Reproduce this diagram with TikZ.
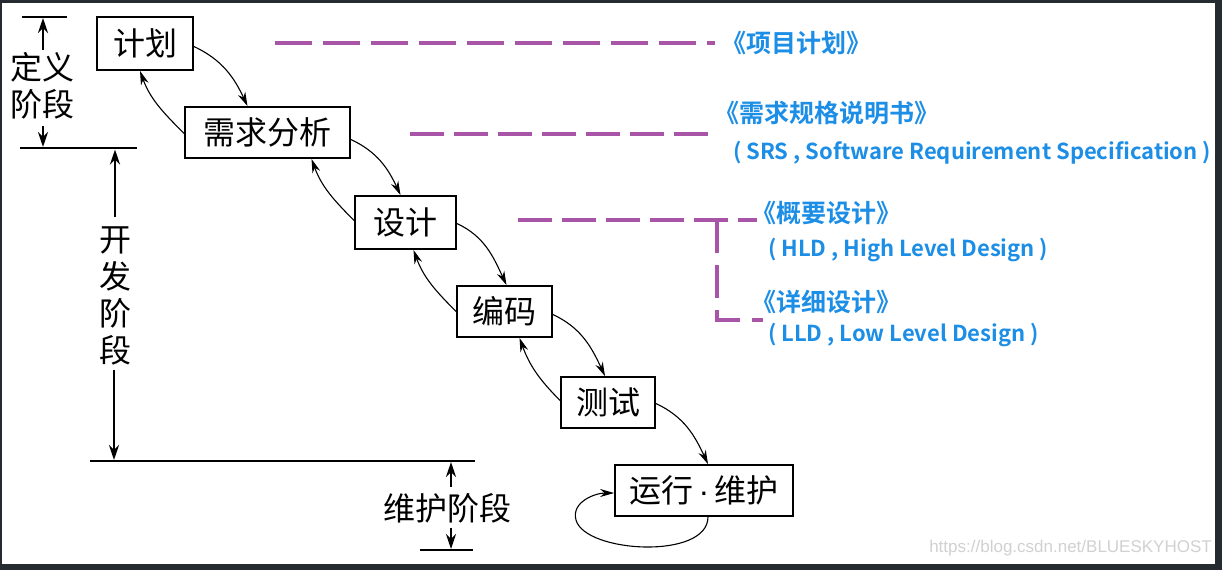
\documentclass[tikz,border=0pt]{standalone}
\usepackage{fontspec}
\newfontfamily\cjk{Noto Sans CJK SC}
\newfontfamily\cjkb{Noto Sans CJK SC Bold}
\newfontfamily\wmfont{Liberation Sans}
\usetikzlibrary{arrows.meta}
\definecolor{framec}{RGB}{38,42,49}
\definecolor{dpurple}{RGB}{168,85,168}
\definecolor{dblue}{RGB}{28,142,230}
\tikzset{
  stagebox/.style={draw, line width=1.8pt, inner sep=0pt, font=\cjk\fontsize{32}{32}\selectfont},
  flow/.style={line width=1.1pt, -{Stealth[length=14pt,width=8pt]}},
  dimarrow/.style={line width=2.4pt, -{Stealth[length=15pt,width=10pt]}},
  dimline/.style={line width=1.6pt},
  docline/.style={dpurple, line width=3.5pt, dash pattern=on 37pt off 11pt},
  phase/.style={inner sep=0pt, align=center, font=\cjk\fontsize{32}{37}\selectfont},
  doctitle/.style={anchor=west, inner sep=0pt, text=dblue, font=\cjkb\fontsize{25}{25}\selectfont},
  docsub/.style={anchor=west, inner sep=0pt, text=dblue, font=\cjkb\fontsize{22}{22}\selectfont},
}
\begin{document}
\begin{tikzpicture}[x=1pt,y=1pt]
\useasboundingbox (0,0) rectangle (1222,-570);
\fill[framec] (0,0) rectangle (1222,-570);
\fill[white] (2,-3) rectangle (1215,-564);

% stage boxes
\node[stagebox, minimum width=96pt, minimum height=53pt] (jh) at (145,-43.5) {计划};
\node[stagebox, minimum width=165pt, minimum height=51pt] (xq) at (267.5,-132.5) {需求分析};
\node[stagebox, minimum width=101pt, minimum height=53pt] (sj) at (405.5,-222.5) {设计};
\node[stagebox, minimum width=95pt, minimum height=51pt] (bm) at (504.5,-311.5) {编码};
\node[stagebox, minimum width=94pt, minimum height=51pt] (cs) at (608,-402.5) {测试};
\node[stagebox, minimum width=178pt, minimum height=51pt] (yw) at (704,-490.5) {运行\,{\wmfont ·}\,维护};

% forward arrows
\draw[flow] ([yshift=-3pt]jh.east) to[out=-25,in=115] ([xshift=-20pt]xq.north);
\draw[flow] ([yshift=-7pt]xq.east) to[out=-25,in=115] ([xshift=-5pt]sj.north);
\draw[flow] ([yshift=-1pt]sj.east) to[out=-25,in=115] ([xshift=2pt]bm.north);
\draw[flow] ([yshift=-3pt]bm.east) to[out=-25,in=115] ([xshift=-3pt]cs.north);
\draw[flow] ([yshift=-1pt]cs.east) to[out=-25,in=115] ([xshift=4pt]yw.north);
% backward arrows
\draw[flow] ([yshift=-1pt]xq.west) to[out=135,in=-70] ([xshift=-5pt]jh.south);
\draw[flow] ([yshift=2pt]sj.west) to[out=135,in=-70] ([xshift=44pt]xq.south);
\draw[flow] (bm.west) to[out=135,in=-70] ([xshift=8pt]sj.south);
\draw[flow] ([yshift=2pt]cs.west) to[out=135,in=-70] ([xshift=15pt]bm.south);
% self loop
\draw[flow] ([xshift=4pt]yw.south) .. controls (708,-560) and (585,-553) .. (576,-520)
  .. controls (571,-502) and (595,-493) .. ([yshift=-2.5pt]yw.west);

% documents
\node[doctitle] (d1) at (721,-43) {《项目计划》};
\node[doctitle] (d2) at (714,-113) {《需求规格说明书》};
\node[docsub] (d2s) at (733,-153) {( SRS , Software Requirement Specification )};
\node[doctitle] (d3) at (751,-213) {《概要设计》};
\node[docsub] (d3s) at (768,-250) {( HLD , High Level Design )};
\node[doctitle] (d4) at (751,-302) {《详细设计》};
\node[docsub] (d4s) at (768,-335) {( LLD , Low Level Design )};

\coordinate (l1a) at (275,-43);
\coordinate (l1b) at (715,-43);
\coordinate (l2a) at (410,-134);
\coordinate (l2b) at (716,-134);
\coordinate (l3a) at (518,-220);
\coordinate (l3b) at (757,-220);
\coordinate (l3c) at (717,-220);
\coordinate (l3d) at (717,-320);
\coordinate (l3e) at (763,-320);
\draw[docline] (l1a) -- (l1b);
\draw[docline, dash pattern=on 34pt off 10pt] (l2a) -- (l2b);
\draw[docline, dash pattern=on 34pt off 10pt] (l3a) -- (l3b);
\draw[docline, dash pattern=on 33pt off 12pt] (l3c) -- (l3d) -- (l3e);

% phase annotations
\node[phase] (dy) at (42,-86) {定义\\阶段};
\node[phase] (kf) at (115,-296) {开\\发\\阶\\段};
\node[phase] (wh) at (447,-508) {维护阶段};

\coordinate (t1) at (22,-17);
\coordinate (t2) at (67,-17);
\coordinate (m1) at (20,-148);
\coordinate (m2) at (137,-148);
\coordinate (b1) at (90,-461);
\coordinate (b2) at (475,-461);
\coordinate (e1) at (420,-550);
\coordinate (e2) at (473,-550);
\draw[dimline] (t1) -- (t2);
\draw[dimline] (m1) -- (m2);
\draw[dimline] (b1) -- (b2);
\draw[dimline] (e1) -- (e2);

\draw[dimarrow] (43,-50) -- (43,-18);
\draw[dimarrow] (43,-126) -- (43,-147);
\draw[dimarrow] (115,-217) -- (115,-149.5);
\draw[dimarrow] (114,-370) -- (114,-460);
\draw[dimarrow] (451,-487) -- (451,-462);
\draw[dimarrow] (451,-528) -- (451,-549);

% watermark
\node[anchor=east, inner sep=0pt, text=black!18, font=\wmfont\fontsize{17}{17}\selectfont] (wm) at (1212,-548) {https://blog.csdn.net/BLUESKYHOST};
\end{tikzpicture}
\end{document}
